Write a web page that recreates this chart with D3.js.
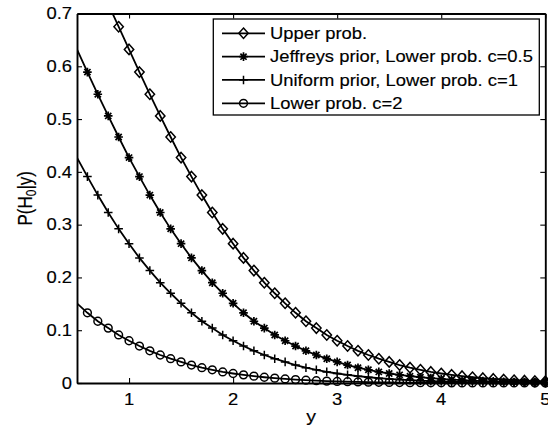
<!DOCTYPE html>
<html><head><meta charset="utf-8">
<script src="https://cdn.jsdelivr.net/npm/d3@7/dist/d3.min.js"></script>
<style>body{margin:0;background:#fff} svg{display:block}</style>
</head><body>
<svg id="c" width="548" height="432"></svg>
<script>
// ---- data ----
const yObs = [0.5,0.6,0.7,0.8,0.9,1.0,1.1,1.2,1.3,1.4,1.5,1.6,1.7,1.8,1.9,2.0,2.1,2.2,2.3,2.4,2.5,2.6,2.7,2.8,2.9,3.0,3.1,3.2,3.3,3.4,3.5,3.6,3.7,3.8,3.9,4.0,4.1,4.2,4.3,4.4,4.5,4.6,4.7,4.8,4.9,5.0];
const upperProb = [0.840,0.800,0.760,0.718,0.675,0.632,0.589,0.547,0.506,0.466,0.427,0.391,0.356,0.323,0.292,0.264,0.237,0.213,0.190,0.170,0.151,0.133,0.117,0.104,0.091,0.080,0.070,0.061,0.053,0.046,0.040,0.034,0.029,0.025,0.021,0.018,0.0154,0.0130,0.0109,0.0092,0.0077,0.0064,0.0053,0.0044,0.0036,0.0030];
const jeffreysLower = [0.632,0.589,0.547,0.506,0.466,0.427,0.391,0.356,0.323,0.292,0.264,0.237,0.213,0.190,0.170,0.151,0.133,0.117,0.104,0.091,0.080,0.070,0.061,0.053,0.046,0.040,0.034,0.029,0.025,0.021,0.018,0.0154,0.0130,0.0109,0.0092,0.0077,0.0064,0.0053,0.0044,0.0036,0.0030,0.0025,0.0020,0.0016,0.0013,0.0011];
const uniformLower = [0.427,0.391,0.356,0.323,0.292,0.264,0.237,0.213,0.190,0.170,0.151,0.133,0.117,0.104,0.091,0.080,0.070,0.061,0.053,0.046,0.040,0.034,0.029,0.025,0.021,0.018,0.0154,0.0130,0.0109,0.0092,0.0077,0.0064,0.0053,0.0044,0.0036,0.0030,0.0025,0.0020,0.0016,0.0013,0.0011,0.0009,0.0007,0.0006,0.0005,0.0004];
const lowerC2 = [0.151,0.133,0.117,0.104,0.091,0.080,0.070,0.061,0.053,0.046,0.040,0.034,0.029,0.025,0.021,0.018,0.0154,0.0130,0.0109,0.0092,0.0077,0.0064,0.0053,0.0044,0.0036,0.0030,0.0025,0.0020,0.0016,0.0013,0.0011,0.0009,0.0007,0.0006,0.0005,0.0004,0.0003,0.0002,0.0002,0.0001,0.0001,0.0001,0.0001,0.0001,0.0000,0.0000];
const seriesNames = ["Upper prob.","Jeffreys prior, Lower prob. c=0.5","Uniform prior, Lower prob. c=1","Lower prob. c=2"];
const seriesMarkers = ["diamond","asterisk","plus","circle"];
const xTickValues = [1,2,3,4,5];
const xTickLabels = ["1","2","3","4","5"];
const yTickValues = [0,0.1,0.2,0.3,0.4,0.5,0.6,0.7];
const yTickLabels = ["0","0.1","0.2","0.3","0.4","0.5","0.6","0.7"];

// ---- layout ----
const W=548,H=432, L=77,R=545.3,T=13.5,B=383;
const SX=1.15, FS=16, FONT="'Liberation Sans', Arial, Helvetica, sans-serif";
const svg=d3.select('#c');
svg.append('rect').attr('width',W).attr('height',H).attr('fill','#fff');
const x=d3.scaleLinear().domain([0.5,5]).range([L,R]);
const y=d3.scaleLinear().domain([0,0.7]).range([B,T]);

svg.append('clipPath').attr('id','clip').append('rect')
  .attr('x',L).attr('y',T).attr('width',R-L).attr('height',B-T);

function txt(px,py,str,anchor,dy,fs){
  const g=svg.append('g').attr('transform',`translate(${px},${py}) scale(${SX},1)`);
  return g.append('text').attr('text-anchor',anchor).attr('dy',dy||0)
    .attr('font-family',FONT).attr('font-size',fs||FS).attr('fill','#000')
    .attr('stroke','#000').attr('stroke-width',0.15).text(str);
}

// axes (inward ticks on all four sides)
function styleAxis(g){
  g.selectAll('text').remove();
  g.select('.domain').attr('stroke','#000').attr('stroke-width',1.9);
  g.selectAll('.tick line').attr('stroke','#000').attr('stroke-width',1.1);
}
svg.append('g').attr('transform',`translate(0,${B})`)
  .call(d3.axisBottom(x).tickValues(xTickValues).tickSizeInner(-5).tickSizeOuter(0)).call(styleAxis);
svg.append('g').attr('transform',`translate(0,${T})`)
  .call(d3.axisTop(x).tickValues(xTickValues).tickSizeInner(-5).tickSizeOuter(0)).call(styleAxis);
svg.append('g').attr('transform',`translate(${L},0)`)
  .call(d3.axisLeft(y).tickValues(yTickValues).tickSizeInner(-5).tickSizeOuter(0)).call(styleAxis);
svg.append('g').attr('transform',`translate(${R},0)`)
  .call(d3.axisRight(y).tickValues(yTickValues).tickSizeInner(-5).tickSizeOuter(0)).call(styleAxis);

xTickValues.forEach((v,i)=>txt(x(v),B+21.5,xTickLabels[i],'middle'));
yTickValues.forEach((v,i)=>txt(L-5,y(v),yTickLabels[i],'end','0.36em'));

// axis labels
txt((L+R)/2,B+39,'y','middle',0,17);
{
  const g=svg.append('g').attr('transform',`translate(31.5,${(T+B)/2}) scale(${SX},1) rotate(-90)`);
  const t=g.append('text').attr('text-anchor','middle').attr('font-family',FONT).attr('font-size',17)
    .attr('fill','#000').attr('stroke','#000').attr('stroke-width',0.15);
  t.append('tspan').text('P(H');
  t.append('tspan').attr('font-size',12).attr('dy',4).text('0');
  t.append('tspan').attr('dy',-4).text('|y)');
}

// markers
function drawMarker(g,type,cx,cy){
  const s=g.append('g').attr('transform',`translate(${cx},${cy})`)
    .attr('fill','none').attr('stroke','#000').attr('stroke-width',1.5);
  if(type==='diamond'){
    s.append('path').attr('d','M0,-5.2L4.7,0L0,5.2L-4.7,0Z');
  } else if(type==='circle'){
    s.append('circle').attr('r',3.9);
  } else if(type==='plus'){
    s.append('path').attr('d','M-4.3,0H4.3M0,-4.3V4.3');
  } else if(type==='asterisk'){
    s.append('path').attr('d','M-4.3,0H4.3M0,-4.3V4.3M-3.1,-3.1L3.1,3.1M-3.1,3.1L3.1,-3.1').attr('stroke-width',1.7);
  }
}

const series=[upperProb,jeffreysLower,uniformLower,lowerC2];
const line=d3.line().x(d=>x(d[0])).y(d=>y(d[1]));
series.forEach((vals,si)=>{
  const pts=yObs.map((xv,i)=>[xv,vals[i]]);
  svg.append('path').datum(pts).attr('d',line).attr('clip-path','url(#clip)')
    .attr('fill','none').attr('stroke','#000').attr('stroke-width',1.8);
  const mg=svg.append('g');
  pts.filter(p=>p[0]>0.5+1e-9 && p[1]<=0.7).forEach(p=>drawMarker(mg,seriesMarkers[si],x(p[0]),y(p[1])));
});

// legend
const LX0=213.3,LX1=539.3,LY0=19,LY1=115;
svg.append('rect').attr('x',LX0).attr('y',LY0).attr('width',LX1-LX0).attr('height',LY1-LY0)
  .attr('fill','#fff').attr('stroke','#000').attr('stroke-width',1.3);
const rowY=d3.scalePoint().domain(seriesNames).range([33.3,103.3]);
seriesNames.forEach((nm,i)=>{
  const ry=rowY(nm);
  svg.append('line').attr('x1',222).attr('x2',265).attr('y1',ry).attr('y2',ry)
    .attr('stroke','#000').attr('stroke-width',1.8);
  drawMarker(svg,seriesMarkers[i],243.5,ry);
  txt(270,ry,nm,'start','0.36em');
});
</script>
</body></html>
